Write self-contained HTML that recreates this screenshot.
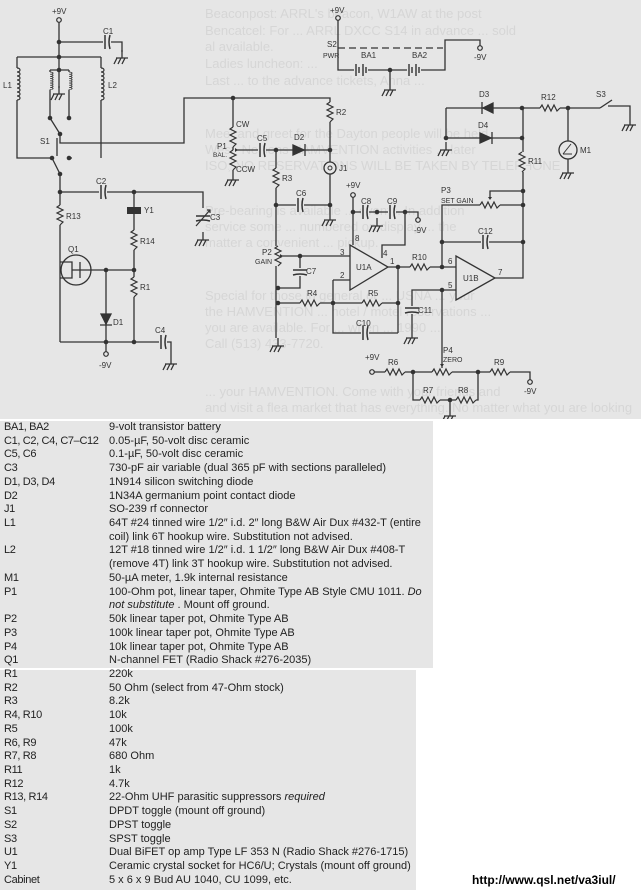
<!DOCTYPE html>
<html><head><meta charset="utf-8"><style>
body{margin:0;width:641px;height:890px;background:#fff;position:relative;overflow:hidden;font-family:"Liberation Sans",sans-serif}
#sch{position:absolute;left:0;top:0}
.box{position:absolute;background:#e6e6e6}
.rows{position:absolute;left:0;top:421px;font-size:11px;line-height:13.73px;color:#222}
.r{position:relative;height:13.73px;white-space:nowrap}
.r span{position:absolute;left:4px;letter-spacing:-0.35px}
.r b{position:absolute;left:109px;font-weight:normal}
.url{position:absolute;left:472px;top:873px;font-size:12px;font-weight:bold;color:#000}
</style></head><body>
<div class="box" style="left:0;top:0;width:641px;height:419px"></div>
<div class="box" style="left:0;top:421px;width:433px;height:247px"></div>
<div class="box" style="left:0;top:670px;width:416px;height:220px"></div>

<svg id="sch" width="641" height="419" viewBox="0 0 641 419">
<defs>
<g id="gnd"><path d="M-6 0H6M-5 0l-3 6M-1 0l-3 6M3 0l-3 6M0 -8V0" stroke="#333" stroke-width="1.3" fill="none"/></g>
<g id="rh"><rect x="-10" y="-4" width="20" height="8" fill="#e6e6e6"/><polyline points="-10,0 -8,-3 -5,3 -2,-3 1,3 4,-3 7,3 10,0" stroke="#333" stroke-width="1.2" fill="none"/></g>
<g id="rv"><rect x="-4" y="-10" width="8" height="20" fill="#e6e6e6"/><polyline points="0,-10 -3,-8 3,-5 -3,-2 3,1 -3,4 3,7 0,10" stroke="#333" stroke-width="1.2" fill="none"/></g>
<g id="ch"><rect x="-4" y="-7" width="8" height="14" fill="#e6e6e6"/><path d="M-2 -7V7M3 -7Q1 0 3 7" stroke="#333" stroke-width="1.5" fill="none"/></g>
<g id="cv"><rect x="-7" y="-4" width="14" height="8" fill="#e6e6e6"/><path d="M-7 -2H7M-7 3Q0 1 7 3" stroke="#333" stroke-width="1.5" fill="none"/></g>
<g id="d"><circle r="2.3" fill="#333"/></g>
<g id="t"><circle r="2.3" fill="#e6e6e6" stroke="#333" stroke-width="1.2"/></g>
<g id="coil"><rect x="-5" y="0" width="10" height="32" fill="#e6e6e6"/><path d="M0 0c4 0 4 4 0 4c4 0 4 4 0 4c4 0 4 4 0 4c4 0 4 4 0 4c4 0 4 4 0 4c4 0 4 4 0 4c4 0 4 4 0 4c4 0 4 4 0 4" stroke="#333" stroke-width="1.2" fill="none"/></g>
<g id="bat"><rect x="-7" y="-6" width="14" height="12" fill="#e6e6e6"/><path d="M-5 -6V6M-2 -3V3M2 -6V6M5 -3V3" stroke="#333" stroke-width="1.4"/></g>
</defs>
<g fill="#d6d6d6" font-size="13" font-family="Liberation Sans,sans-serif">
<text x="205" y="18">Beaconpost: ARRL's beacon, W1AW at the post</text>
<text x="205" y="35">Bencatcel: For ... ARRL DXCC S14 in advance ... sold</text>
<text x="205" y="51">al available.</text>
<text x="205" y="68">Ladies luncheon: ...</text>
<text x="205" y="85">Last ... to the advance tickets, Anna ...</text>
<text x="205" y="138">Meet and greet for the Dayton people will be held</text>
<text x="205" y="154">West, Nelsons HAMVENTION activities ... later</text>
<text x="205" y="170">ISO, NO RESERVATIONS WILL BE TAKEN BY TELEPHONE</text>
<text x="205" y="215">Pre-bearing is available ... events. In addition</text>
<text x="205" y="231">service some ... numbered on display ... the</text>
<text x="205" y="247">matter a convenient ... pickup.</text>
<text x="205" y="300">Special for those in general or ... USNA ... your</text>
<text x="205" y="316">the HAMVENTION ... hotel / motel reservations ...</text>
<text x="205" y="332">you are available. For ... when ... 1990 ...</text>
<text x="205" y="348">Call (513) 433-7720.</text>
<text x="205" y="396">... your HAMVENTION. Come with your friends and</text>
<text x="205" y="412">and visit a flea market that has everything. No matter what you are looking</text>
</g>
<g stroke="#333" stroke-width="1.3" fill="none">
<path d="M59 20V57M59 42H122V52M17 57H101M17 57V158H52M101 57V158M69 158H72"/>
<path d="M50 70H69M59 57V70M59 70V88M50 70V118M69 70V118"/>
<path d="M50 118L60 134M60 134V143H184V98H233"/>
<path d="M52 158L60 174M60 174V342M57 138V156" />
<path d="M60 192H203V208M134 192V270M92 270H134V342M106 270V342M60 342H171V356M106 342V352"/>
<path d="M233 98H330V150M233 98V172M236 150H330M276 150V205M276 205H330V212M330 150V205M276 205V338"/>
<path d="M353 195V245M353 212H418V218M405 212V245H382V258M278 256H350M300 256V288H278M333 280H350M333 280V333H398M278 303H398M398 267V333"/>
<path d="M388 267H456M442 267V205H523M442 242H523M456 290H412V330M442 290V372"/>
<path d="M495 278H523V108M490 198V191H523"/>
<path d="M372 372H530V380M413 372V400H478V372M450 400V408"/>
<path d="M338 18V70H445V40H480V48M390 70V82"/>
<path d="M338 48H443" stroke-dasharray="7 4"/>
<path d="M446 108H600M608 106H630V117M446 108V140M446 138H522M568 108V141M568 159V165"/>
<path d="M600 108L612 100"/>
</g>
<use href="#t" x="59" y="20"/><use href="#t" x="338" y="18"/><use href="#t" x="480" y="48"/><use href="#t" x="418" y="220"/><use href="#t" x="353" y="195"/><use href="#t" x="372" y="372"/><use href="#t" x="530" y="382"/><use href="#t" x="106" y="354"/>
<use href="#d" x="59" y="42"/><use href="#d" x="59" y="57"/><use href="#d" x="59" y="70"/><use href="#d" x="60" y="192"/><use href="#d" x="134" y="192"/><use href="#d" x="106" y="270"/><use href="#d" x="134" y="270"/><use href="#d" x="106" y="342"/><use href="#d" x="134" y="342"/>
<use href="#d" x="233" y="98"/><use href="#d" x="276" y="150"/><use href="#d" x="330" y="150"/><use href="#d" x="276" y="205"/><use href="#d" x="330" y="205"/><use href="#d" x="300" y="256"/><use href="#d" x="278" y="288"/><use href="#d" x="278" y="303"/><use href="#d" x="333" y="303"/><use href="#d" x="398" y="303"/><use href="#d" x="398" y="267"/><use href="#d" x="442" y="267"/><use href="#d" x="442" y="290"/><use href="#d" x="442" y="242"/><use href="#d" x="523" y="242"/><use href="#d" x="523" y="205"/><use href="#d" x="523" y="191"/><use href="#d" x="522" y="138"/><use href="#d" x="522" y="108"/><use href="#d" x="568" y="108"/><use href="#d" x="446" y="138"/><use href="#d" x="353" y="212"/><use href="#d" x="377" y="212"/><use href="#d" x="405" y="212"/><use href="#d" x="390" y="70"/><use href="#d" x="413" y="372"/><use href="#d" x="478" y="372"/><use href="#d" x="450" y="400"/>
<use href="#d" x="50" y="118"/><use href="#d" x="69" y="118"/><use href="#d" x="60" y="134"/><use href="#d" x="52" y="158"/><use href="#d" x="69" y="158"/><use href="#d" x="60" y="174"/>
<use href="#gnd" x="122" y="58"/><use href="#gnd" x="59" y="94"/><use href="#gnd" x="233" y="180"/><use href="#gnd" x="330" y="220"/><use href="#gnd" x="377" y="226"/><use href="#gnd" x="278" y="346"/><use href="#gnd" x="412" y="338"/><use href="#gnd" x="450" y="416"/><use href="#gnd" x="390" y="90"/><use href="#gnd" x="446" y="150"/><use href="#gnd" x="630" y="125"/><use href="#gnd" x="568" y="173"/><use href="#gnd" x="171" y="364"/><use href="#gnd" x="203" y="240"/>
<use href="#ch" x="107" y="42"/><use href="#ch" x="103" y="192"/><use href="#ch" x="262" y="150"/><use href="#ch" x="300" y="205"/><use href="#ch" x="365" y="212"/><use href="#ch" x="392" y="212"/><use href="#ch" x="365" y="333"/><use href="#ch" x="485" y="242"/><use href="#ch" x="163" y="342"/>
<use href="#cv" x="300" y="272"/><use href="#cv" x="412" y="310"/><use href="#cv" x="203" y="218"/>
<path d="M196 226L210 210M207 210h3v3" stroke="#333" stroke-width="1.2" fill="none"/>
<use href="#rv" x="60" y="215"/><use href="#rv" x="134" y="240"/><use href="#rv" x="134" y="287"/><use href="#rv" x="330" y="112"/><use href="#rv" x="276" y="178"/><use href="#rv" x="522" y="162"/><use href="#rv" x="233" y="137"/><use href="#rv" x="233" y="160"/><use href="#rv" x="278" y="256"/>
<use href="#rh" x="310" y="303"/><use href="#rh" x="372" y="303"/><use href="#rh" x="420" y="267"/><use href="#rh" x="550" y="108"/><use href="#rh" x="490" y="205"/><use href="#rh" x="395" y="372"/><use href="#rh" x="442" y="372"/><use href="#rh" x="500" y="372"/><use href="#rh" x="430" y="400"/><use href="#rh" x="466" y="400"/>
<use href="#coil" x="17" y="68"/><use href="#coil" x="101" y="68"/>
<g transform="translate(50,72) scale(1,0.55)"><use href="#coil"/></g><g transform="translate(69,72) scale(1,0.55)"><use href="#coil"/></g>
<use href="#bat" x="361" y="70"/><use href="#bat" x="414" y="70"/>
<rect x="127" y="207" width="14" height="7" fill="#333"/>
<g fill="#333" stroke="#333" stroke-width="1.3">
<path d="M293 145V155L304 150Z M305 144V156" />
<path d="M493 103V113L483 108Z M482 102V114"/>
<path d="M480 133V143L491 138Z M492 132V144"/>
<path d="M101 314H111L106 324Z M100 325H112"/>
</g>
<circle cx="330" cy="168" r="6" fill="#e6e6e6" stroke="#333" stroke-width="1.3"/><circle cx="330" cy="168" r="2" fill="none" stroke="#333"/>
<circle cx="568" cy="150" r="9" fill="#e6e6e6" stroke="#333" stroke-width="1.3"/><path d="M563 154L571 144M563 154H572" stroke="#333" fill="none"/>
<circle cx="76" cy="270" r="15" fill="#e6e6e6" stroke="#333" stroke-width="1.3"/>
<path d="M60 262H72V278H60M72 270H92M80 262V278" stroke="#333" stroke-width="1.3" fill="none"/>
<path d="M350 245V290L388 267Z" fill="#e6e6e6" stroke="#333" stroke-width="1.3"/>
<path d="M456 256V300L495 278Z" fill="#e6e6e6" stroke="#333" stroke-width="1.3"/>
<path d="M238 150l-3 -2v4z M283 256l-3 -2v4z M490 200l-2 -3h4z M442 367l-2 -3h4z" fill="#333"/>
<g font-family="Liberation Sans,sans-serif" font-size="8" fill="#333">
<text x="52" y="14">+9V</text><text x="103" y="34">C1</text><text x="3" y="88">L1</text><text x="108" y="88">L2</text><text x="40" y="144">S1</text>
<text x="96" y="184">C2</text><text x="144" y="213">Y1</text><text x="66" y="219">R13</text><text x="140" y="244">R14</text><text x="68" y="252">Q1</text><text x="140" y="290">R1</text><text x="113" y="325">D1</text><text x="155" y="333">C4</text><text x="99" y="368">-9V</text><text x="210" y="220">C3</text>
<text x="236" y="127">CW</text><text x="236" y="172">CCW</text><text x="217" y="149">P1</text><text x="213" y="157" font-size="6.5">BAL.</text><text x="257" y="141">C5</text><text x="294" y="140">D2</text><text x="336" y="115">R2</text><text x="339" y="171">J1</text><text x="282" y="181">R3</text><text x="296" y="196">C6</text>
<text x="330" y="13">+9V</text><text x="327" y="47">S2</text><text x="323" y="58" font-size="7">PWR</text><text x="361" y="58">BA1</text><text x="412" y="58">BA2</text><text x="474" y="60">-9V</text>
<text x="479" y="97">D3</text><text x="478" y="128">D4</text><text x="541" y="100">R12</text><text x="596" y="97">S3</text><text x="580" y="153">M1</text><text x="528" y="164">R11</text>
<text x="441" y="193">P3</text><text x="441" y="203" font-size="7">SET GAIN</text><text x="346" y="188">+9V</text><text x="361" y="204">C8</text><text x="387" y="204">C9</text><text x="414" y="233">-9V</text><text x="478" y="234">C12</text>
<text x="262" y="255">P2</text><text x="255" y="264" font-size="7">GAIN</text><text x="306" y="274">C7</text><text x="340" y="255">3</text><text x="340" y="278">2</text><text x="355" y="241">8</text><text x="383" y="256">4</text><text x="390" y="264">1</text><text x="356" y="270">U1A</text><text x="412" y="260">R10</text>
<text x="307" y="296">R4</text><text x="368" y="296">R5</text><text x="356" y="326">C10</text><text x="418" y="313">C11</text><text x="448" y="264">6</text><text x="448" y="288">5</text><text x="463" y="281">U1B</text><text x="498" y="275">7</text>
<text x="365" y="360">+9V</text><text x="388" y="365">R6</text><text x="443" y="353">P4</text><text x="443" y="362" font-size="7">ZERO</text><text x="494" y="365">R9</text><text x="524" y="394">-9V</text><text x="423" y="393">R7</text><text x="458" y="393">R8</text>
</g>
</svg>

<div class="rows">
<div class="r"><span>BA1, BA2</span><b>9-volt transistor battery</b></div>
<div class="r"><span>C1, C2, C4, C7–C12</span><b>0.05-µF, 50-volt disc ceramic</b></div>
<div class="r"><span>C5, C6</span><b>0.1-µF, 50-volt disc ceramic</b></div>
<div class="r"><span>C3</span><b>730-pF air variable (dual 365 pF with sections paralleled)</b></div>
<div class="r"><span>D1, D3, D4</span><b>1N914 silicon switching diode</b></div>
<div class="r"><span>D2</span><b>1N34A germanium point contact diode</b></div>
<div class="r"><span>J1</span><b>SO-239 rf connector</b></div>
<div class="r"><span>L1</span><b>64T #24 tinned wire 1/2″ i.d. 2″ long B&amp;W Air Dux #432-T (entire</b></div>
<div class="r"><b>coil) link 6T hookup wire. Substitution not advised.</b></div>
<div class="r"><span>L2</span><b>12T #18 tinned wire 1/2″ i.d. 1 1/2″ long B&amp;W Air Dux #408-T</b></div>
<div class="r"><b>(remove 4T) link 3T hookup wire. Substitution not advised.</b></div>
<div class="r"><span>M1</span><b>50-µA meter, 1.9k internal resistance</b></div>
<div class="r"><span>P1</span><b>100-Ohm pot, linear taper, Ohmite Type AB Style CMU 1011. <i>Do</i></b></div>
<div class="r"><b><i>not substitute</i> . Mount off ground.</b></div>
<div class="r"><span>P2</span><b>50k linear taper pot, Ohmite Type AB</b></div>
<div class="r"><span>P3</span><b>100k linear taper pot, Ohmite Type AB</b></div>
<div class="r"><span>P4</span><b>10k linear taper pot, Ohmite Type AB</b></div>
<div class="r"><span>Q1</span><b>N-channel FET (Radio Shack #276-2035)</b></div>
<div class="r"><span>R1</span><b>220k</b></div>
<div class="r"><span>R2</span><b>50 Ohm (select from 47-Ohm stock)</b></div>
<div class="r"><span>R3</span><b>8.2k</b></div>
<div class="r"><span>R4, R10</span><b>10k</b></div>
<div class="r"><span>R5</span><b>100k</b></div>
<div class="r"><span>R6, R9</span><b>47k</b></div>
<div class="r"><span>R7, R8</span><b>680 Ohm</b></div>
<div class="r"><span>R11</span><b>1k</b></div>
<div class="r"><span>R12</span><b>4.7k</b></div>
<div class="r"><span>R13, R14</span><b>22-Ohm UHF parasitic suppressors <i>required</i></b></div>
<div class="r"><span>S1</span><b>DPDT toggle (mount off ground)</b></div>
<div class="r"><span>S2</span><b>DPST toggle</b></div>
<div class="r"><span>S3</span><b>SPST toggle</b></div>
<div class="r"><span>U1</span><b>Dual BiFET op amp Type LF 353 N (Radio Shack #276-1715)</b></div>
<div class="r"><span>Y1</span><b>Ceramic crystal socket for HC6/U; Crystals (mount off ground)</b></div>
<div class="r"><span>Cabinet</span><b>5 x 6 x 9 Bud AU 1040, CU 1099, etc.</b></div>
</div>
<div class="url">http://www.qsl.net/va3iul/</div>
</body></html>
